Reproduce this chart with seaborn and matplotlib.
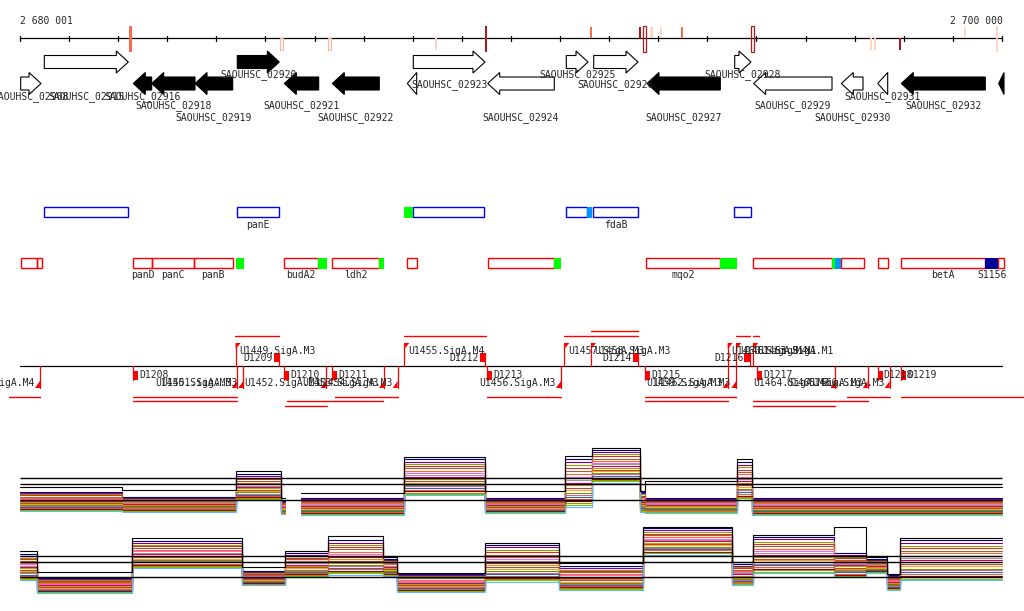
import numpy as np
import pandas as pd
import matplotlib
matplotlib.use("Agg")
import matplotlib.pyplot as plt
from matplotlib.patches import Polygon, Rectangle
import seaborn as sns

sns.set_theme(style="white")
plt.rcParams["font.family"] = ["DejaVu Sans Mono", "DejaVu Sans"]

# ---------------- data ----------------
region_start = 2680001
region_end = 2700000

gene_names = ["SAOUHSC_02908", "SAOUHSC_02915", "SAOUHSC_02916", "SAOUHSC_02918", "SAOUHSC_02919",
              "SAOUHSC_02920", "SAOUHSC_02921", "SAOUHSC_02922", "", "SAOUHSC_02923", "SAOUHSC_02924",
              "SAOUHSC_02925", "SAOUHSC_02926", "SAOUHSC_02927", "SAOUHSC_02928", "SAOUHSC_02929",
              "SAOUHSC_02930", "SAOUHSC_02931", "SAOUHSC_02932", ""]
gene_starts = [2680015, 2680496, 2682308, 2682683, 2683565, 2684426, 2685384, 2686361, 2687889, 2688011,
               2689526, 2691127, 2691685, 2692770, 2694556, 2694943, 2696727, 2697469, 2697949, 2699933]
gene_ends = [2680429, 2682207, 2682683, 2683565, 2684333, 2685282, 2686084, 2687318, 2688080, 2689471,
             2690882, 2691569, 2692587, 2694263, 2694888, 2696538, 2697169, 2697672, 2699660, 2700041]
gene_strands = ["+", "+", "-", "-", "-", "+", "-", "-", "-", "+", "-", "+", "+", "-", "+", "-", "-", "-", "-", "-"]
gene_black = [0, 0, 1, 1, 1, 1, 1, 1, 0, 0, 0, 0, 0, 1, 0, 0, 0, 0, 1, 1]

op_starts = [2680496, 2684426, 2687828, 2688011, 2691127, 2691554, 2691677, 2694548,
             2680015, 2680341, 2682308, 2682683, 2683545, 2684400, 2685384, 2686076, 2686361, 2687318,
             2687889, 2689538, 2690882, 2692756, 2694263, 2694935, 2696538, 2696605, 2696727, 2697469,
             2697949, 2699660, 2699919]
op_ends = [2682194, 2685282, 2688011, 2689457, 2691554, 2691650, 2692581, 2694882,
           2680341, 2680443, 2682683, 2683545, 2684333, 2684563, 2686076, 2686247, 2687318, 2687414,
           2688080, 2690882, 2691019, 2694263, 2694603, 2696538, 2696605, 2696727, 2697183, 2697672,
           2699660, 2699919, 2700035]
op_track = [0] * 8 + [1] * 23
op_kind = ["box", "box", "green", "box", "box", "cyan", "box", "box",
           "box", "box", "box", "box", "box", "green", "box", "green", "box", "green",
           "box", "box", "green", "box", "green", "box", "green", "cyan", "box", "box",
           "box", "navy", "box"]
op_labels = ["", "panE", "", "", "", "", "fdaB", "",
             "", "", "panD", "panC", "panB", "", "budA2", "", "ldh2", "",
             "", "", "", "mqo2", "", "", "", "", "", "",
             "betA", "S1156", ""]

snp_pos = [2682251, 2685336, 2686294, 2688473, 2689491, 2691630, 2692628, 2692719, 2692858,
           2693049, 2693489, 2694909, 2697332, 2697408, 2697917, 2699240, 2699898]
snp_level = [1, 0, 0, 0, 2, 1, 2, 2, 0, 0, 1, 2, 0, 0, 2, 0, 0]
snp_outline = [0, 1, 1, 0, 0, 0, 0, 1, 0, 0, 0, 1, 0, 0, 0, 0, 0]
snp_side = ["both", "down", "down", "down", "both", "up", "up", "both", "up",
            "up", "up", "both", "down", "down", "down", "up", "both"]

tss_pos = [2684393, 2687828, 2691086, 2691630, 2694414, 2694589, 2694935,
           2680408, 2684414, 2684549, 2686227, 2687414, 2687693, 2691019, 2694414, 2694589,
           2696605, 2697265, 2697713]
tss_strand = ["+"] * 7 + ["-"] * 12
tss_names = ["U1449.SigA.M3", "U1455.SigA.M4", "U1457.SigA.M3", "U1458.SigA.M3", "U1460.SigA.M4",
             "U1461.SigB.M1", "U1463.SigA.M1",
             "U1448.SigA.M4", "U1450.SigA.M3", "U1451.SigA.M3", "U1452.SigA.M3", "U1453.SigA.M3",
             "U1454.SigA.M3", "U1456.SigA.M3", "U1459.SigA.M3", "U1462.SigA.M3", "U1464.SigA.M3",
             "U1465.SigA.M3", "U1466.SigA.M3"]

term_starts = [2685174, 2689369, 2692479, 2694752,
               2682308, 2685384, 2686361, 2689518, 2692736, 2695010, 2697469, 2697949]
term_ends = [2685282, 2689471, 2692581, 2694862,
             2682410, 2685486, 2686463, 2689620, 2692838, 2695112, 2697571, 2698051]
term_strand = ["+"] * 4 + ["-"] * 8
term_names = ["D1209", "D1212", "D1214", "D1216",
              "D1208", "D1210", "D1211", "D1213", "D1215", "D1217", "D1218", "D1219"]

tu_starts = [2684380, 2687828, 2691086, 2691630, 2694583, 2694935,
             2679783, 2682308, 2682308, 2686416, 2685433, 2685398, 2689518, 2692736, 2692736,
             2694935, 2694935, 2696843, 2697949]
tu_ends = [2685282, 2689491, 2692581, 2692581, 2694862, 2695045,
           2680408, 2684414, 2684414, 2687693, 2687400, 2686247, 2691019, 2694589, 2694414,
           2697265, 2696605, 2697713, 2700448]
tu_strand = ["+"] * 6 + ["-"] * 13

# expression (log-ratio) envelopes per segment
p1_seg_start = [2680001, 2682078, 2684400, 2685316, 2685724, 2687821, 2689471, 2691100, 2691650,
                2692628, 2692730, 2694603, 2694909]
p1_seg_end = [2682078, 2684400, 2685316, 2685398, 2687821, 2689471, 2691100, 2691650, 2692628,
              2692730, 2694603, 2694909, 2700000]
p1_hi = [0.60, 0.25, 1.72, 0.00, 0.20, 2.74, 0.20, 2.80, 3.30, 0.60, 0.20, 2.55, 0.20]
p1_lo = [-0.70, -0.75, 0.00, -0.90, -0.95, 0.30, -0.83, -0.45, 1.10, -0.76, -0.80, 0.00, -0.95]
p1_black = [0.83, 0.64, 1.85, 0.10, 0.45, 2.74, 0.55, 2.80, 3.30, 0.60, 1.20, 2.60, 0.85]

p2_seg_start = [2680001, 2680347, 2682282, 2684522, 2685398, 2686274, 2687394, 2687679, 2689471,
                2690978, 2692689, 2694501, 2694928, 2696579, 2697230, 2697658, 2697923]
p2_seg_end = [2680347, 2682282, 2684522, 2685398, 2686274, 2687394, 2687679, 2689471, 2690978,
              2692689, 2694501, 2694928, 2696579, 2697230, 2697658, 2697923, 2700000]
p2_hi = [1.55, 0.00, 2.40, 0.46, 1.63, 2.48, 1.23, 0.30, 2.20, 0.78, 3.20, 0.91, 2.70, 1.60, 1.20, 0.20, 2.50]
p2_lo = [-0.17, -1.00, 0.60, -0.50, 0.04, 0.15, 0.08, -0.94, -0.30, -0.80, 1.45, -0.49, 0.27, 0.00, 0.27, -0.80, -0.20]
p2_black = [1.70, 0.36, 2.50, 0.68, 1.70, 2.60, 1.30, 0.25, 2.20, 0.90, 3.20, 1.00, 2.70, 3.20, 1.30, 0.20, 2.50]

series_colors = ["#000080", "#800080", "#999900", "#CC3333", "#996633", "#FF6633", "#FF66CC", "#999999",
                 "#CC0066", "#CC9900", "#A0522D", "#FF9933", "#669900", "#CC6699", "#336699", "#E0603A",
                 "#8B0000", "#B8860B", "#66CC00", "#66B3FF"]
series_frac = [0.95, 0.88, 0.82, 0.76, 0.70, 0.64, 0.58, 0.53, 0.48, 0.43, 0.38, 0.33, 0.28, 0.24,
               0.20, 0.15, 0.11, 0.07, 0.04, 0.00]
ref_levels = [0.0, 1.0, 1.38]

# ---------------- layout ----------------
W, H = 1024, 611
PX0, PXW = 20, 982
BPP = (region_end - region_start) / PXW
XL = (region_start - PX0 * BPP, region_start + (W - PX0) * BPP)

fig = plt.figure(figsize=(W / 100, H / 100), dpi=100)
fig.patch.set_facecolor("white")
ax = fig.add_axes([0, 0, 1, 1])
ax.set_xlim(*XL)
ax.set_ylim(H, 0)
ax.axis("off")
FS = 7.0

# ruler
ax.plot([region_start, region_end], [38, 38], color="black", lw=0.9)
for t in np.arange(region_start - 1, region_end + 1, 1000):
    ax.plot([t, t], [35.5, 41], color="black", lw=0.9)
ax.text(region_start, 20.5, f"{region_start:,}".replace(",", " "), ha="left", va="center", fontsize=FS)
ax.text(region_end + 0.5 * BPP, 20.5, f"{region_end:,}".replace(",", " "), ha="right", va="center", fontsize=FS)

snp_cols = ["#FDD5C5", "#F46D4E", "#AE1A1A"]
side_y = {"up": (26.5, 38), "down": (38, 49.5), "both": (26, 52)}
for p, lv, ol, sd in zip(snp_pos, snp_level, snp_outline, snp_side):
    y0, y1 = side_y[sd]
    if ol:
        ax.add_patch(Rectangle((p - 1.5 * BPP, y0), 3 * BPP, y1 - y0, fill=False,
                               ec=snp_cols[lv] if lv else "#F9B9A6", lw=0.9, zorder=4))
    else:
        ax.add_patch(Rectangle((p - 1.0 * BPP, y0), 2.2 * BPP, y1 - y0, fc=snp_cols[lv], ec="none", zorder=4))

# genes
row_y = [62, 83.5]
gene_row = [1, 0, 1, 1, 1, 0, 1, 1, 1, 0, 1, 0, 0, 1, 0, 1, 1, 1, 1, 1]
label_lane = [2, 2, 2, 3, 4, 0, 3, 4, None, 1, 4, 0, 1, 4, 0, 3, 4, 2, 3, None]
lane_y = [75, 85, 97, 106, 118]
BH, HH, HEAD = 6.5, 11, 12 * BPP
for s, e, st, bk, r in zip(gene_starts, gene_ends, gene_strands, gene_black, gene_row):
    yc = row_y[r]
    L = e - s
    hd = min(HEAD, L)
    if st == "+":
        b = e - hd
        pts = [(s, yc - BH), (b, yc - BH), (b, yc - HH), (e, yc), (b, yc + HH), (b, yc + BH), (s, yc + BH)]
        if hd >= L:
            pts = [(s, yc - HH), (e, yc), (s, yc + HH)]
    else:
        b = s + hd
        pts = [(e, yc - BH), (b, yc - BH), (b, yc - HH), (s, yc), (b, yc + HH), (b, yc + BH), (e, yc + BH)]
        if hd >= L:
            pts = [(e, yc - HH), (s, yc), (e, yc + HH)]
    ax.add_patch(Polygon(pts, closed=True, fc="black" if bk else "white", ec="black", lw=0.8, zorder=3))
for n, s, e, ln in zip(gene_names, gene_starts, gene_ends, label_lane):
    if n and ln is not None:
        ax.text((s + e) / 2, lane_y[ln], n, ha="center", va="center", fontsize=FS, zorder=5)

# operon / transcript tracks
track_y = [(207.3, 217.3), (258.3, 268.3)]
track_col = ["#0000FF", "#FF0000"]
track_lab_y = [224.5, 275.5]
fill_col = {"green": "#00FF00", "cyan": "#0096FF", "navy": "#000099"}
for s, e, tr, k, lab in zip(op_starts, op_ends, op_track, op_kind, op_labels):
    y0, y1 = track_y[tr]
    if k == "box":
        ax.add_patch(Rectangle((s, y0), e - s, y1 - y0, fill=False, ec=track_col[tr], lw=1.0, zorder=3))
    else:
        ax.add_patch(Rectangle((s, y0 - 0.5), e - s, y1 - y0 + 1, fc=fill_col[k], ec="none", zorder=4))
    if lab:
        ax.text((s + e) / 2, track_lab_y[tr], lab, ha="center", va="center", fontsize=FS)

# TSS / terminator track
LINE_Y = 366
ax.plot([region_start, region_end], [LINE_Y, LINE_Y], color="black", lw=0.9, zorder=2)
red = "#FF0000"
up_lane_y = [336, 331]
dn_lane_y = [396.7, 401, 405.7]
# assign TU lanes greedily in order given
lane_plus = [0, 0, 0, 1, 0, 0]
lane_minus = [0, 0, 1, 0, 1, 2, 0, 0, 1, 1, 2, 0, 0]
ip = im = 0
for s, e, st in zip(tu_starts, tu_ends, tu_strand):
    if st == "+":
        y = up_lane_y[lane_plus[ip]]; ip += 1
    else:
        y = dn_lane_y[lane_minus[im]]; im += 1
    ax.plot([s, e], [y, y], color=red, lw=1.0, zorder=2)

FW = 5 * BPP
for p, st, n in zip(tss_pos, tss_strand, tss_names):
    if st == "+":
        ax.plot([p, p], [LINE_Y, 343], color=red, lw=0.9, zorder=3)
        ax.add_patch(Polygon([(p, 343), (p + FW, 343), (p, 349)], closed=True, fc=red, ec="none", zorder=3))
        ax.text(p + 3.5 * BPP, 350.5, n, ha="left", va="center", fontsize=FS, zorder=4)
    else:
        ax.plot([p, p], [LINE_Y, 388], color=red, lw=0.9, zorder=3)
        ax.add_patch(Polygon([(p, 388), (p - FW, 388), (p, 381)], closed=True, fc=red, ec="none", zorder=3))
        ax.text(p - 5.5 * BPP, 383.3, n, ha="right", va="center", fontsize=FS, zorder=4)

for s, e, st, n in zip(term_starts, term_ends, term_strand, term_names):
    if st == "+":
        ax.add_patch(Rectangle((s, 353), e - s, 9, fc=red, ec="none", zorder=3))
        ax.plot([e, e], [353, LINE_Y], color=red, lw=0.9, zorder=3)
        ax.text(s - 1 * BPP, 357.8, n, ha="right", va="center", fontsize=FS, zorder=4)
    else:
        ax.add_patch(Rectangle((s, 370.7), e - s, 9, fc=red, ec="none", zorder=3))
        ax.plot([s, s], [LINE_Y, 379.7], color=red, lw=0.9, zorder=3)
        ax.text(e + 1 * BPP, 375.3, n, ha="left", va="center", fontsize=FS, zorder=4)


# expression panels
def build_frame(starts, ends, hi, lo, black):
    rows = []
    block = 0
    blocks = []
    for i in range(len(starts)):
        if i > 0 and starts[i] != ends[i - 1]:
            block += 1
        blocks.append(block)
    names = [f"s{k}" for k in range(len(series_colors))] + ["black"]
    for k, name in enumerate(names):
        for i in range(len(starts)):
            if name == "black":
                v = black[i]
            else:
                v = lo[i] + series_frac[k] * (hi[i] - lo[i])
            rows.append((name, f"{name}_{blocks[i]}", starts[i], v))
            last = (i == len(starts) - 1) or blocks[i + 1] != blocks[i]
            if last:
                rows.append((name, f"{name}_{blocks[i]}", ends[i], v))
    return pd.DataFrame(rows, columns=["series", "unit", "pos", "val"]), names


palette = {f"s{k}": c for k, c in enumerate(series_colors)}
palette["black"] = "#000000"
SC = 15.7
panels = [
    (440, 520, 500, p1_seg_start, p1_seg_end, p1_hi, p1_lo, p1_black),
    (520, 605, 577.3, p2_seg_start, p2_seg_end, p2_hi, p2_lo, p2_black),
]
for top, bot, base, ss, ee, hi, lo, bl in panels:
    pax = fig.add_axes([0, (H - bot) / H, 1, (bot - top) / H])
    pax.set_xlim(*XL)
    pax.set_ylim(-(bot - base) / SC, (base - top) / SC)
    pax.patch.set_alpha(0)
    df, names = build_frame(ss, ee, hi, lo, bl)
    sns.lineplot(data=df, x="pos", y="val", hue="series", units="unit", estimator=None,
                 hue_order=names, palette=palette, legend=False, sort=False,
                 drawstyle="steps-post", linewidth=0.8, ax=pax)
    pax.hlines(ref_levels, region_start, region_end, colors="black", lw=1.0, zorder=5)
    pax.axis("off")

fig.savefig("out.png", dpi=100, facecolor="white")
